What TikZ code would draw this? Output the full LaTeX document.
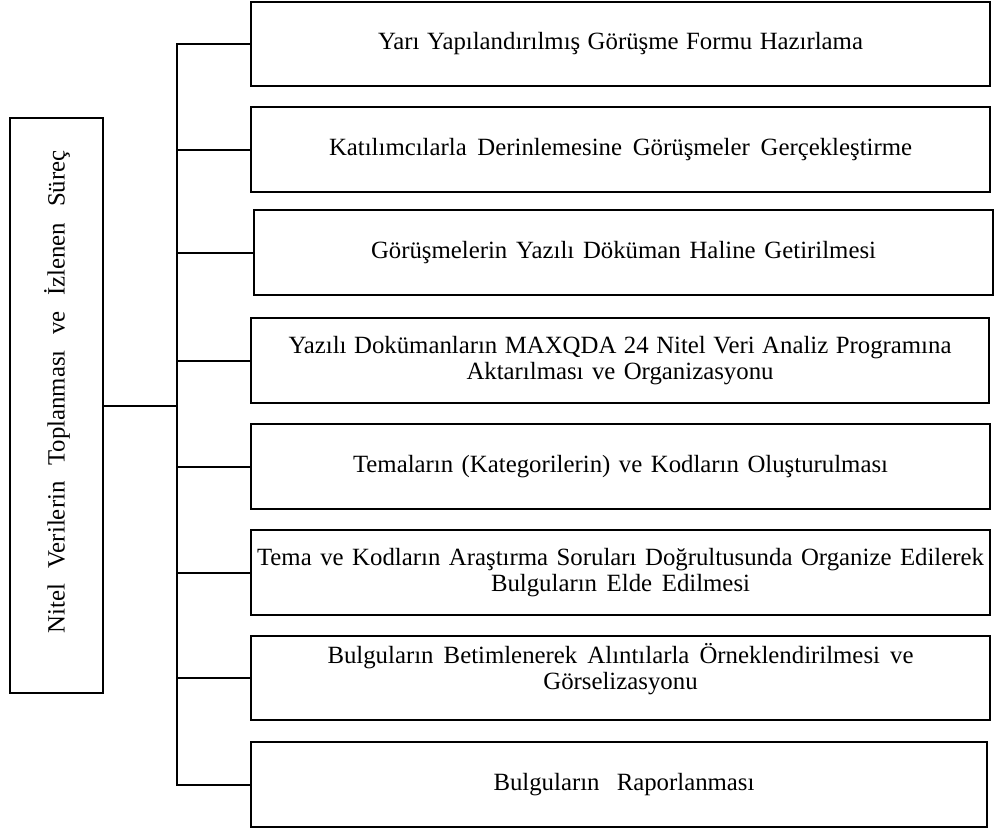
\documentclass[tikz,border=0pt]{standalone}
\usepackage{fontspec}
\setmainfont{Liberation Serif}
\newcommand{\fitline}[2]{\makebox[#1pt][s]{#2}}
\begin{document}
\begin{tikzpicture}[x=0.75pt,y=-0.75pt,
  stepbox/.style={draw, line width=1.5pt, rectangle, inner sep=0pt,
    minimum width=554.25pt, minimum height=63.75pt, align=center,
    font=\fontsize{18.6}{20}\selectfont},
  txt/.style={inner sep=0pt, align=center, font=\fontsize{18.6}{20}\selectfont},
  conn/.style={line width=1.5pt, line join=miter}]
\useasboundingbox (0,0) rectangle (994,832);

\node[stepbox, minimum width=69.75pt, minimum height=431.25pt] (root) at (56.5,405.5) {};
\node[txt, rotate=90] (roottxt) at (57,392) {\fitline{362.25}{Nitel Verilerin Toplanması ve İzlenen Süreç}};

\node[stepbox, minimum height=63pt] (b1) at (620.5,44) {\fitline{363.75}{Yarı Yapılandırılmış Görüşme Formu Hazırlama}};
\node[stepbox] (b2) at (620.5,149.5) {\fitline{437.25}{Katılımcılarla Derinlemesine Görüşmeler Gerçekleştirme}};
\node[stepbox] (b3) at (623.5,252.5) {\fitline{378.75}{Görüşmelerin Yazılı Döküman Haline Getirilmesi}};
\node[stepbox, minimum width=553.5pt] (b4) at (620,360.5) {\fitline{497.25}{Yazılı Dokümanların MAXQDA 24 Nitel Veri Analiz Programına}\\\fitline{230.25}{Aktarılması ve Organizasyonu}};
\node[stepbox] (b5) at (620.5,466.5) {\fitline{401.25}{Temaların (Kategorilerin) ve Kodların Oluşturulması}};
\node[stepbox] (b6) at (620.5,572.5) {\fitline{545.25}{Tema ve Kodların Araştırma Soruları Doğrultusunda Organize Edilerek}\\\fitline{194.25}{Bulguların Elde Edilmesi}};
\node[stepbox, minimum height=63pt] (b7) at (620.5,678) {};
\node[txt] (b7txt) at (620.5,669) {\fitline{439.5}{Bulguların Betimlenerek Alıntılarla Örneklendirilmesi ve}\\Görselizasyonu};
\node[stepbox, minimum width=552pt] (b8) at (619,784.5) {\hspace*{7.5pt}\fitline{195.75}{Bulguların Raporlanması}};

\coordinate (spine) at (177,0);

\draw[conn] (b1.west) -- (b1.west -| spine) -- (b8.west -| spine) -- (b8.west);
\foreach \b in {b2,b3,b4,b5,b6,b7}
  \draw[conn] (\b.west -| spine) -- (\b.west);
\draw[conn] (root.east) -- (root.east -| spine);
\end{tikzpicture}
\end{document}
